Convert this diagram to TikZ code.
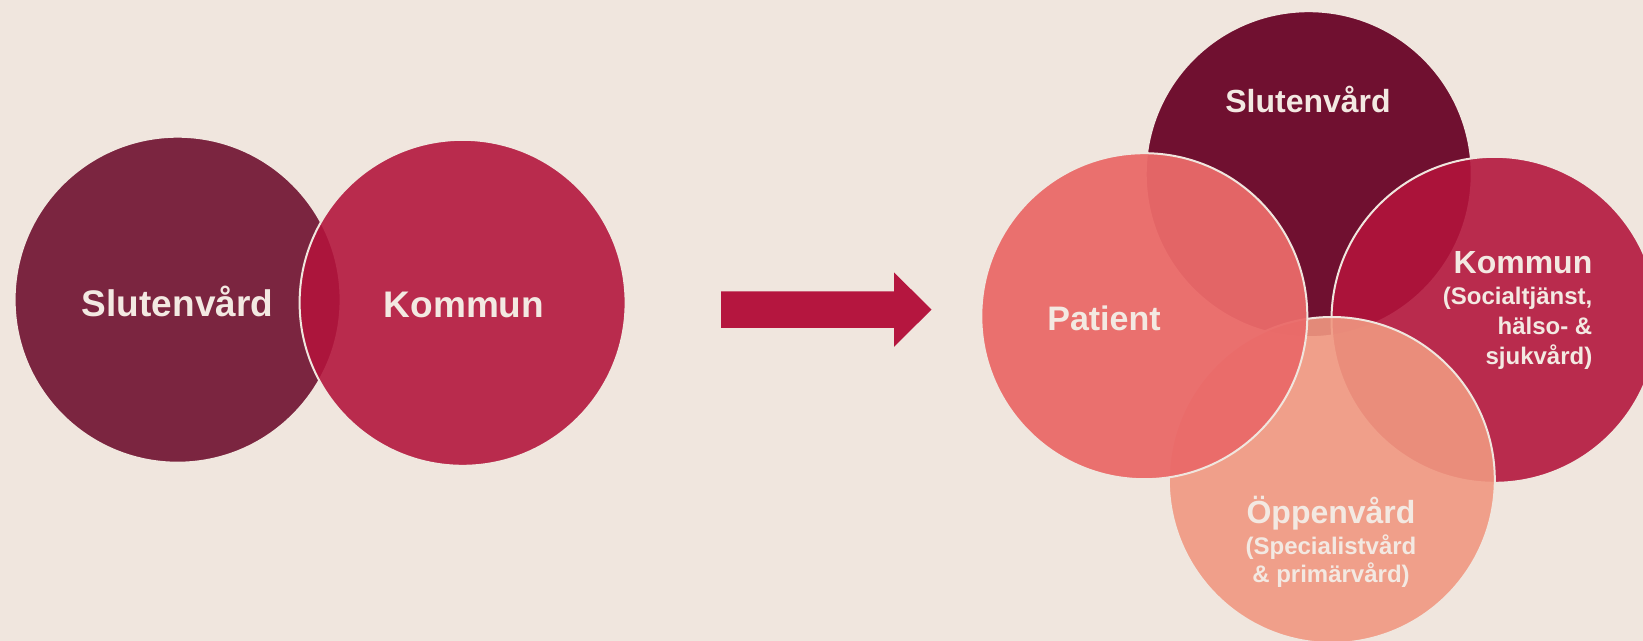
\documentclass[tikz,border=0pt]{standalone}
\usepackage{fontspec}
\setmainfont{Liberation Sans}
\definecolor{bgbeige}{HTML}{F0E6DE}
\definecolor{slutdark}{HTML}{7B2540}
\definecolor{slutdeep}{HTML}{701030}
\definecolor{kommred}{HTML}{B3143C}
\definecolor{patrose}{HTML}{EA6A69}
\definecolor{oppsalmon}{HTML}{F09881}
\definecolor{arrowred}{HTML}{B5163F}
\definecolor{labeltext}{HTML}{F3E9E2}
\begin{document}
\begin{tikzpicture}[x=0.5pt, y=-0.5pt,
ring/.style={draw=bgbeige, line width=1pt},
bigtitle/.style={text=labeltext, font=\bfseries\fontsize{18.5}{22}\selectfont, inner sep=0pt},
title/.style={text=labeltext, font=\bfseries\fontsize{16}{19}\selectfont, inner sep=0pt},
subtitle/.style={text=labeltext, font=\bfseries\fontsize{12}{15}\selectfont, inner sep=0pt},]

	\fill[bgbeige] (0,0) rectangle (1643,641);
	\useasboundingbox (0,0) rectangle (1643,641);
	\clip (0,0) rectangle (1643,641);

	% before
	\filldraw[fill=slutdark, ring] (177.6,299.7) circle (81.5pt);
	\filldraw[fill=kommred, fill opacity=0.89, ring] (462.6,302.8) circle (81.5pt);

	\fill[arrowred] (721,291.3) -- (894,291.3) -- (894,272.4) -- (931.5,309.6) -- (894,346.8) -- (894,328) -- (721,328) -- cycle;

	% after
	\filldraw[fill=slutdeep, ring] (1308.7,174.2) circle (81.5pt);
	\filldraw[fill=kommred, fill opacity=0.89, ring] (1494.5,319.8) circle (81.5pt);
	\filldraw[fill=oppsalmon, fill opacity=0.9, ring] (1331.8,480) circle (81.5pt);
	\filldraw[fill=patrose, fill opacity=0.95, ring] (1144.3,316.2) circle (81.5pt);

	\node (slutBefore) [bigtitle] at (177.6,301) {Slutenvård};
	\node (kommBefore) [bigtitle] at (464,305) {Kommun};

	\node (slutAfter) [title] at (1308,99.5) {Slutenvård};
	\node (patient) [title, font=\bfseries\fontsize{17}{20}\selectfont] at (1104,318.5) {Patient};
	\node (kommAfter) [title, anchor=base east] at (1592.7,274) {Kommun};
	\node (kommSub) [subtitle, align=right, anchor=north east] at (1592.7,287) {(Socialtjänst,\\hälso- \&\\sjukvård)};
	\node (oppen) [title, anchor=base] at (1331,523.5) {Öppenvård};
	\node (oppenSub) [subtitle, font=\bfseries\fontsize{12}{14.2}\selectfont, align=center, anchor=north] at (1331,534) {(Specialistvård\\\& primärvård)};

\end{tikzpicture}
\end{document}
